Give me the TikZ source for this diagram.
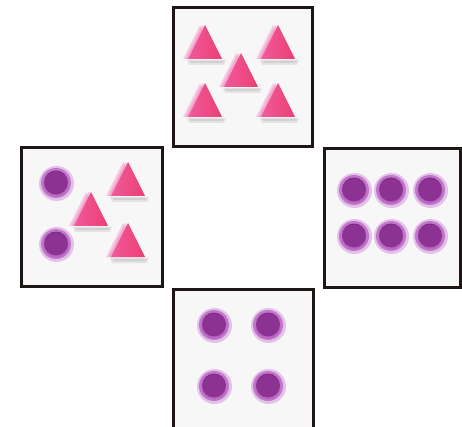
\documentclass[tikz,border=0pt]{standalone}
\begin{document}
\begin{tikzpicture}[x=1pt,y=-1pt,
  panel/.style={draw=frame,line width=3pt,fill=panelbg},
  tri/.pic={
    \fill[black,opacity=0.08] (-18,18) -- (21,18) -- (19,23) -- (-16,23) -- cycle;
    \fill[black,opacity=0.08] (-16,19) -- (19,19) -- (17,21) -- (-14,21) -- cycle;
    \fill[pinkghost,opacity=0.35] (-5,-17) -- (-22,17) -- (12,17) -- cycle;
    \fill[pinkghost,opacity=0.45] (-2.5,-17) -- (-19.5,17) -- (14.5,17) -- cycle;
    \shade[left color=pinkA,right color=pinkB] (0,-17) -- (-17,17) -- (17,17) -- cycle;
  },
  dot/.pic={
    \fill[purpleHalo,opacity=0.5] (0.5,0.5) circle (17.5);
    \fill[purpleMid,opacity=0.6] (0,0) circle (15);
    \fill[purpleCore] (0,-0.5) circle (12);
    \fill[purpleMid,opacity=0.35] (0,1) circle (12.5);
  }]
\definecolor{frame}{RGB}{30,22,20}
\definecolor{panelbg}{RGB}{247,247,248}
\definecolor{pinkA}{RGB}{240,90,155}
\definecolor{pinkB}{RGB}{236,62,115}
\definecolor{pinkghost}{RGB}{240,120,180}
\definecolor{purpleHalo}{RGB}{210,140,220}
\definecolor{purpleMid}{RGB}{170,70,180}
\definecolor{purpleCore}{RGB}{125,40,130}
\useasboundingbox (0,0) rectangle (462,427);
\fill[white] (0,0) rectangle (462,427);
% panels
\draw[panel] (173,8) rectangle (312,147);
\draw[panel] (21,148) rectangle (162,286);
\draw[panel] (324,149) rectangle (460.5,287);
\fill[panelbg] (173,289) rectangle (313,427);
\draw[frame,line width=3pt] (173,430) -- (173,289) -- (313,289) -- (313,430);
% top panel triangles
\pic at (205,42) {tri};
\pic at (278,42) {tri};
\pic at (241,70) {tri};
\pic at (205,100) {tri};
\pic at (278,100) {tri};
% left panel
\pic at (56,183) {dot};
\pic at (56,244) {dot};
\pic at (128,179) {tri};
\pic at (91,209) {tri};
\pic at (128,240) {tri};
% right panel
\pic at (354,190) {dot};
\pic at (391,190) {dot};
\pic at (430,190) {dot};
\pic at (354,236) {dot};
\pic at (391,236) {dot};
\pic at (430,236) {dot};
% bottom panel
\pic at (214,325) {dot};
\pic at (268,325) {dot};
\pic at (214,386) {dot};
\pic at (268,386) {dot};
\end{tikzpicture}
\end{document}
